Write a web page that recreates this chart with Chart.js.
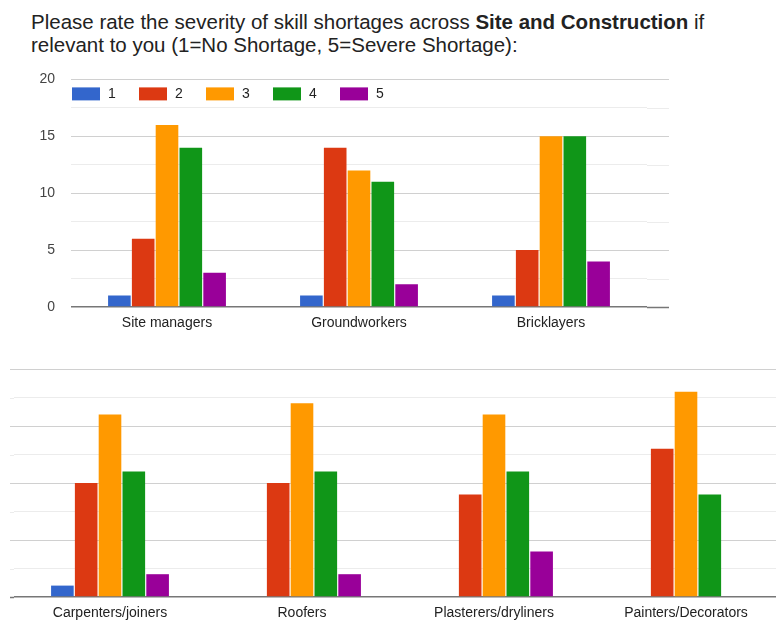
<!DOCTYPE html>
<html>
<head>
<meta charset="utf-8">
<title>Skill shortages - Site and Construction</title>
<script src="https://cdn.jsdelivr.net/npm/chart.js@4"></script>
<style>
  html, body { margin: 0; padding: 0; background: #fff; overflow: hidden; }
  body { width: 776px; height: 623px; position: relative; font-family: "Liberation Sans", Arial, sans-serif; }
  #title { position: absolute; left: 31px; top: 10px; font-size: 20.5px; line-height: 23px; color: #222; white-space: nowrap; }
  #topWrap { position: absolute; left: 0; top: 55px; width: 776px; height: 282px; }
  #bottomWrap { position: absolute; left: 0; top: 357px; width: 782px; height: 270px; }
</style>
</head>
<body>
<div id="title">Please rate the severity of skill shortages across <b>Site and Construction</b> if<br>relevant to you (1=No Shortage, 5=Severe Shortage):</div>
<div id="topWrap"><canvas id="topChart"></canvas></div>
<div id="bottomWrap"><canvas id="bottomChart"></canvas></div>
<script>
// Rating scale and colours (1 = no shortage ... 5 = severe)
const ratings = ['1', '2', '3', '4', '5'];
const ratingColors = ['#3366cc', '#dc3912', '#ff9900', '#109618', '#990099'];

// First block of trades
const topTrades = ['Site managers', 'Groundworkers', 'Bricklayers'];
const topRating1 = [1, 1, 1];
const topRating2 = [6, 14, 5];
const topRating3 = [16, 12, 15];
const topRating4 = [14, 11, 15];
const topRating5 = [3, 2, 4];

// Second block of trades
const bottomTrades = ['Carpenters/joiners', 'Roofers', 'Plasterers/dryliners', 'Painters/Decorators'];
const bottomRating1 = [1, 0, 0, 0];
const bottomRating2 = [10, 10, 9, 13];
const bottomRating3 = [16, 17, 16, 18];
const bottomRating4 = [11, 11, 11, 9];
const bottomRating5 = [2, 2, 4, 0];

const yMax = 20;
const yStep = 2.5;
const yLabelEvery = 5;

const FONT = '"Liberation Sans", Arial, sans-serif';

function gridColor(ctx) {
    const v = ctx.tick.value;
    if (v === 0) return '#777';
    return v % yLabelEvery === 0 ? '#d0d0d0' : '#ececec';
}

function gridWidth(ctx) {
    return ctx.tick.value === 0 ? 1.5 : 1;
}

// carries the horizontal gridlines a little past the plot area
const extendGrid = {
    id: 'extendGrid',
    beforeDatasetsDraw(chart, args, opts) {
        const { ctx, chartArea } = chart;
        const y = chart.scales.y;
        ctx.save();
        y.ticks.forEach(t => {
            const py = Math.round(y.getPixelForValue(t.value)) + 0.5;
            ctx.strokeStyle = gridColor({ tick: t });
            ctx.lineWidth = gridWidth({ tick: t });
            ctx.beginPath();
            if (opts.left) {
                ctx.moveTo(chartArea.left - opts.left, py);
                ctx.lineTo(chartArea.left, py);
            }
            if (opts.right) {
                ctx.moveTo(chartArea.right, py);
                ctx.lineTo(chartArea.right + opts.right, py);
            }
            ctx.stroke();
        });
        ctx.restore();
    }
};

// legend drawn inside the plot, along the top edge
const insideLegend = {
    id: 'insideLegend',
    afterDraw(chart, args, opts) {
        if (!opts.display) return;
        const { ctx, chartArea } = chart;
        ctx.save();
        ctx.font = '14px ' + FONT;
        ctx.textBaseline = 'middle';
        ctx.textAlign = 'left';
        chart.data.datasets.forEach((ds, i) => {
            const x = chartArea.left + 1 + i * 67;
            const y = chartArea.top + 8;
            ctx.fillStyle = ds.backgroundColor;
            ctx.fillRect(x, y, 28, 13);
            ctx.fillStyle = '#222';
            ctx.fillText(ds.label, x + 36, y + 7);
        });
        ctx.restore();
    }
};

function makeDatasets(series) {
    return series.map((data, i) => ({
        label: ratings[i],
        data: data,
        backgroundColor: ratingColors[i],
        borderWidth: 0,
        categoryPercentage: 0.62,
        barPercentage: 0.95
    }));
}

function makeOptions(showYLabels, yAxisWidth, topPad, rightPad, gridExt, legendOn) {
    return {
        responsive: true,
        maintainAspectRatio: false,
        animation: false,
        layout: { padding: { top: topPad, right: rightPad, bottom: 0, left: 0 } },
        plugins: {
            legend: { display: false },
            tooltip: { enabled: false },
            extendGrid: gridExt,
            insideLegend: { display: legendOn }
        },
        scales: {
            x: {
                grid: { display: false, drawTicks: false },
                border: { display: false },
                ticks: { color: '#222', font: { family: FONT, size: 14 }, padding: 8, maxRotation: 0, autoSkip: false },
                afterFit: s => { s.height = 30; }
            },
            y: {
                min: 0,
                max: yMax,
                border: { display: false },
                grid: { color: gridColor, lineWidth: gridWidth, drawTicks: false },
                ticks: {
                    display: showYLabels,
                    stepSize: yStep,
                    padding: 16,
                    color: '#444',
                    font: { family: FONT, size: 14 },
                    callback: v => (v % yLabelEvery === 0 ? v : '')
                },
                afterFit: s => { s.width = yAxisWidth; }
            }
        }
    };
}

new Chart(document.getElementById('topChart'), {
    type: 'bar',
    data: {
        labels: topTrades,
        datasets: makeDatasets([topRating1, topRating2, topRating3, topRating4, topRating5])
    },
    options: makeOptions(true, 71, 0, 129, { right: 22 }, true),
    plugins: [extendGrid, insideLegend]
});

new Chart(document.getElementById('bottomChart'), {
    type: 'bar',
    data: {
        labels: bottomTrades,
        datasets: makeDatasets([bottomRating1, bottomRating2, bottomRating3, bottomRating4, bottomRating5])
    },
    options: makeOptions(false, 14, 12, 0, { left: 4 }, false),
    plugins: [extendGrid, insideLegend]
});
</script>
</body>
</html>
